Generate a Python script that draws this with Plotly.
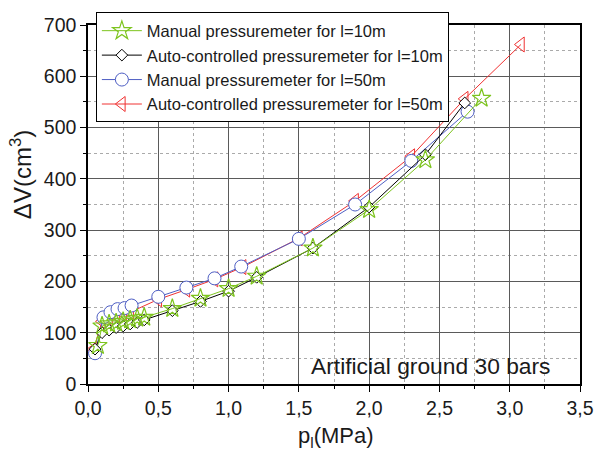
import plotly.graph_objects as go

# Manual pressuremeter for l=10m
x_man10 = [0.07, 0.10, 0.15, 0.20, 0.25, 0.30, 0.35, 0.40, 0.60, 0.80, 1.00, 1.20, 1.60, 2.00, 2.40, 2.80]
y_man10 = [75, 113, 117, 119, 122, 125, 128, 130, 147, 167, 186, 210, 265, 340, 437, 557]
# Auto-controlled pressuremeter for l=10m
x_auto10 = [0.05, 0.10, 0.15, 0.20, 0.25, 0.30, 0.35, 0.40, 0.60, 0.80, 1.00, 1.20, 1.60, 2.00, 2.40, 2.68]
y_auto10 = [68, 100, 105, 110, 113, 117, 120, 125, 143, 161, 181, 208, 265, 345, 447, 548]
# Manual pressuremeter for l=50m
x_man50 = [0.05, 0.11, 0.16, 0.21, 0.26, 0.31, 0.50, 0.70, 0.90, 1.09, 1.50, 1.90, 2.30, 2.70]
y_man50 = [60, 130, 140, 146, 148, 153, 170, 188, 206, 229, 283, 350, 435, 531]
# Auto-controlled pressuremeter for l=50m
x_auto50 = [0.04, 0.10, 0.15, 0.20, 0.25, 0.30, 0.50, 0.70, 0.90, 1.10, 1.50, 1.90, 2.30, 2.68, 3.08]
y_auto50 = [68, 122, 128, 133, 138, 140, 165, 184, 204, 228, 284, 357, 444, 556, 662]

GREEN = "#7dc41e"
BLACK = "#000000"
BLUE = "#4f5fc4"
RED = "#f03232"
FONT = "Liberation Sans, Arial"
TXT = "#1a1a1a"

fig = go.Figure()
fig.add_trace(go.Scatter(x=x_auto50, y=y_auto50, mode="lines+markers",
                         name="Auto-controlled pressuremeter for l=50m", legendrank=4,
                         line=dict(color=RED, width=1),
                         marker=dict(symbol="triangle-left-open", size=13, color=RED, line=dict(width=1))))
fig.add_trace(go.Scatter(x=x_man50, y=y_man50, mode="lines+markers",
                         name="Manual pressuremeter for l=50m", legendrank=3,
                         line=dict(color=BLUE, width=1),
                         marker=dict(symbol="circle", size=13, color="white", line=dict(width=1, color=BLUE))))
fig.add_trace(go.Scatter(x=x_auto10, y=y_auto10, mode="lines+markers",
                         name="Auto-controlled pressuremeter for l=10m", legendrank=2,
                         line=dict(color=BLACK, width=1),
                         marker=dict(symbol="diamond", size=9, color="white", line=dict(width=1, color=BLACK))))
fig.add_trace(go.Scatter(x=x_man10, y=y_man10, mode="lines+markers",
                         name="Manual pressuremeter for l=10m", legendrank=1,
                         line=dict(color=GREEN, width=1),
                         marker=dict(symbol="star-open", size=14, color=GREEN, line=dict(width=1.2))))

fig.add_annotation(text="Artificial ground 30 bars", x=0.945, y=(384.5 - 366) / 367,
                   xref="paper", yref="paper", xanchor="right", yanchor="middle", showarrow=False,
                   font=dict(size=22.8, color=TXT, family=FONT))
fig.add_annotation(text="ΔV(cm<sup>3</sup>)", textangle=-90, x=(20 - 88) / 499, y=(384.5 - 170) / 367,
                   xref="paper", yref="paper", xanchor="center", yanchor="middle", showarrow=False,
                   font=dict(size=24, color=TXT, family=FONT))
fig.add_annotation(text="p<sub>l</sub>(MPa)", x=(340 - 88) / 499, y=(384.5 - 439) / 367,
                   xref="paper", yref="paper", xanchor="center", yanchor="middle", showarrow=False,
                   font=dict(size=22, color=TXT, family=FONT))

axis_common = dict(showline=True, linecolor="black", linewidth=1.5, mirror=True,
                   ticks="outside", ticklen=6, tickwidth=1, tickcolor="black",
                   showgrid=True, gridcolor="#5a5a5a", gridwidth=1, zeroline=False,
                   tickfont=dict(size=19.5, color=TXT, family=FONT))

fig.update_xaxes(range=[0, 3.5], dtick=0.5, tick0=0, tickformat=".1f",
                 minor=dict(dtick=0.25, ticks="outside", ticklen=3, tickcolor="black",
                            showgrid=True, gridcolor="#aaa", griddash="dot", gridwidth=1),
                 **axis_common)
fig.update_yaxes(range=[0, 700], dtick=100, tick0=0,
                 minor=dict(dtick=50, ticks="outside", ticklen=3, tickcolor="black",
                            showgrid=True, gridcolor="#aaa", griddash="dot", gridwidth=1),
                 **axis_common)

fig.update_layout(
    width=606, height=455,
    margin=dict(l=88, r=19, t=17, b=71),
    plot_bgcolor="white", paper_bgcolor="white",
    separators=",.",
    font=dict(family=FONT, color=TXT),
    legend=dict(x=0.016, y=1.035, xanchor="left", yanchor="top",
                bgcolor="white", bordercolor="black", borderwidth=1,
                font=dict(size=16.5, color=TXT, family=FONT), tracegroupgap=0,
                itemwidth=40),
    showlegend=True,
)

fig.write_html("out.html")
